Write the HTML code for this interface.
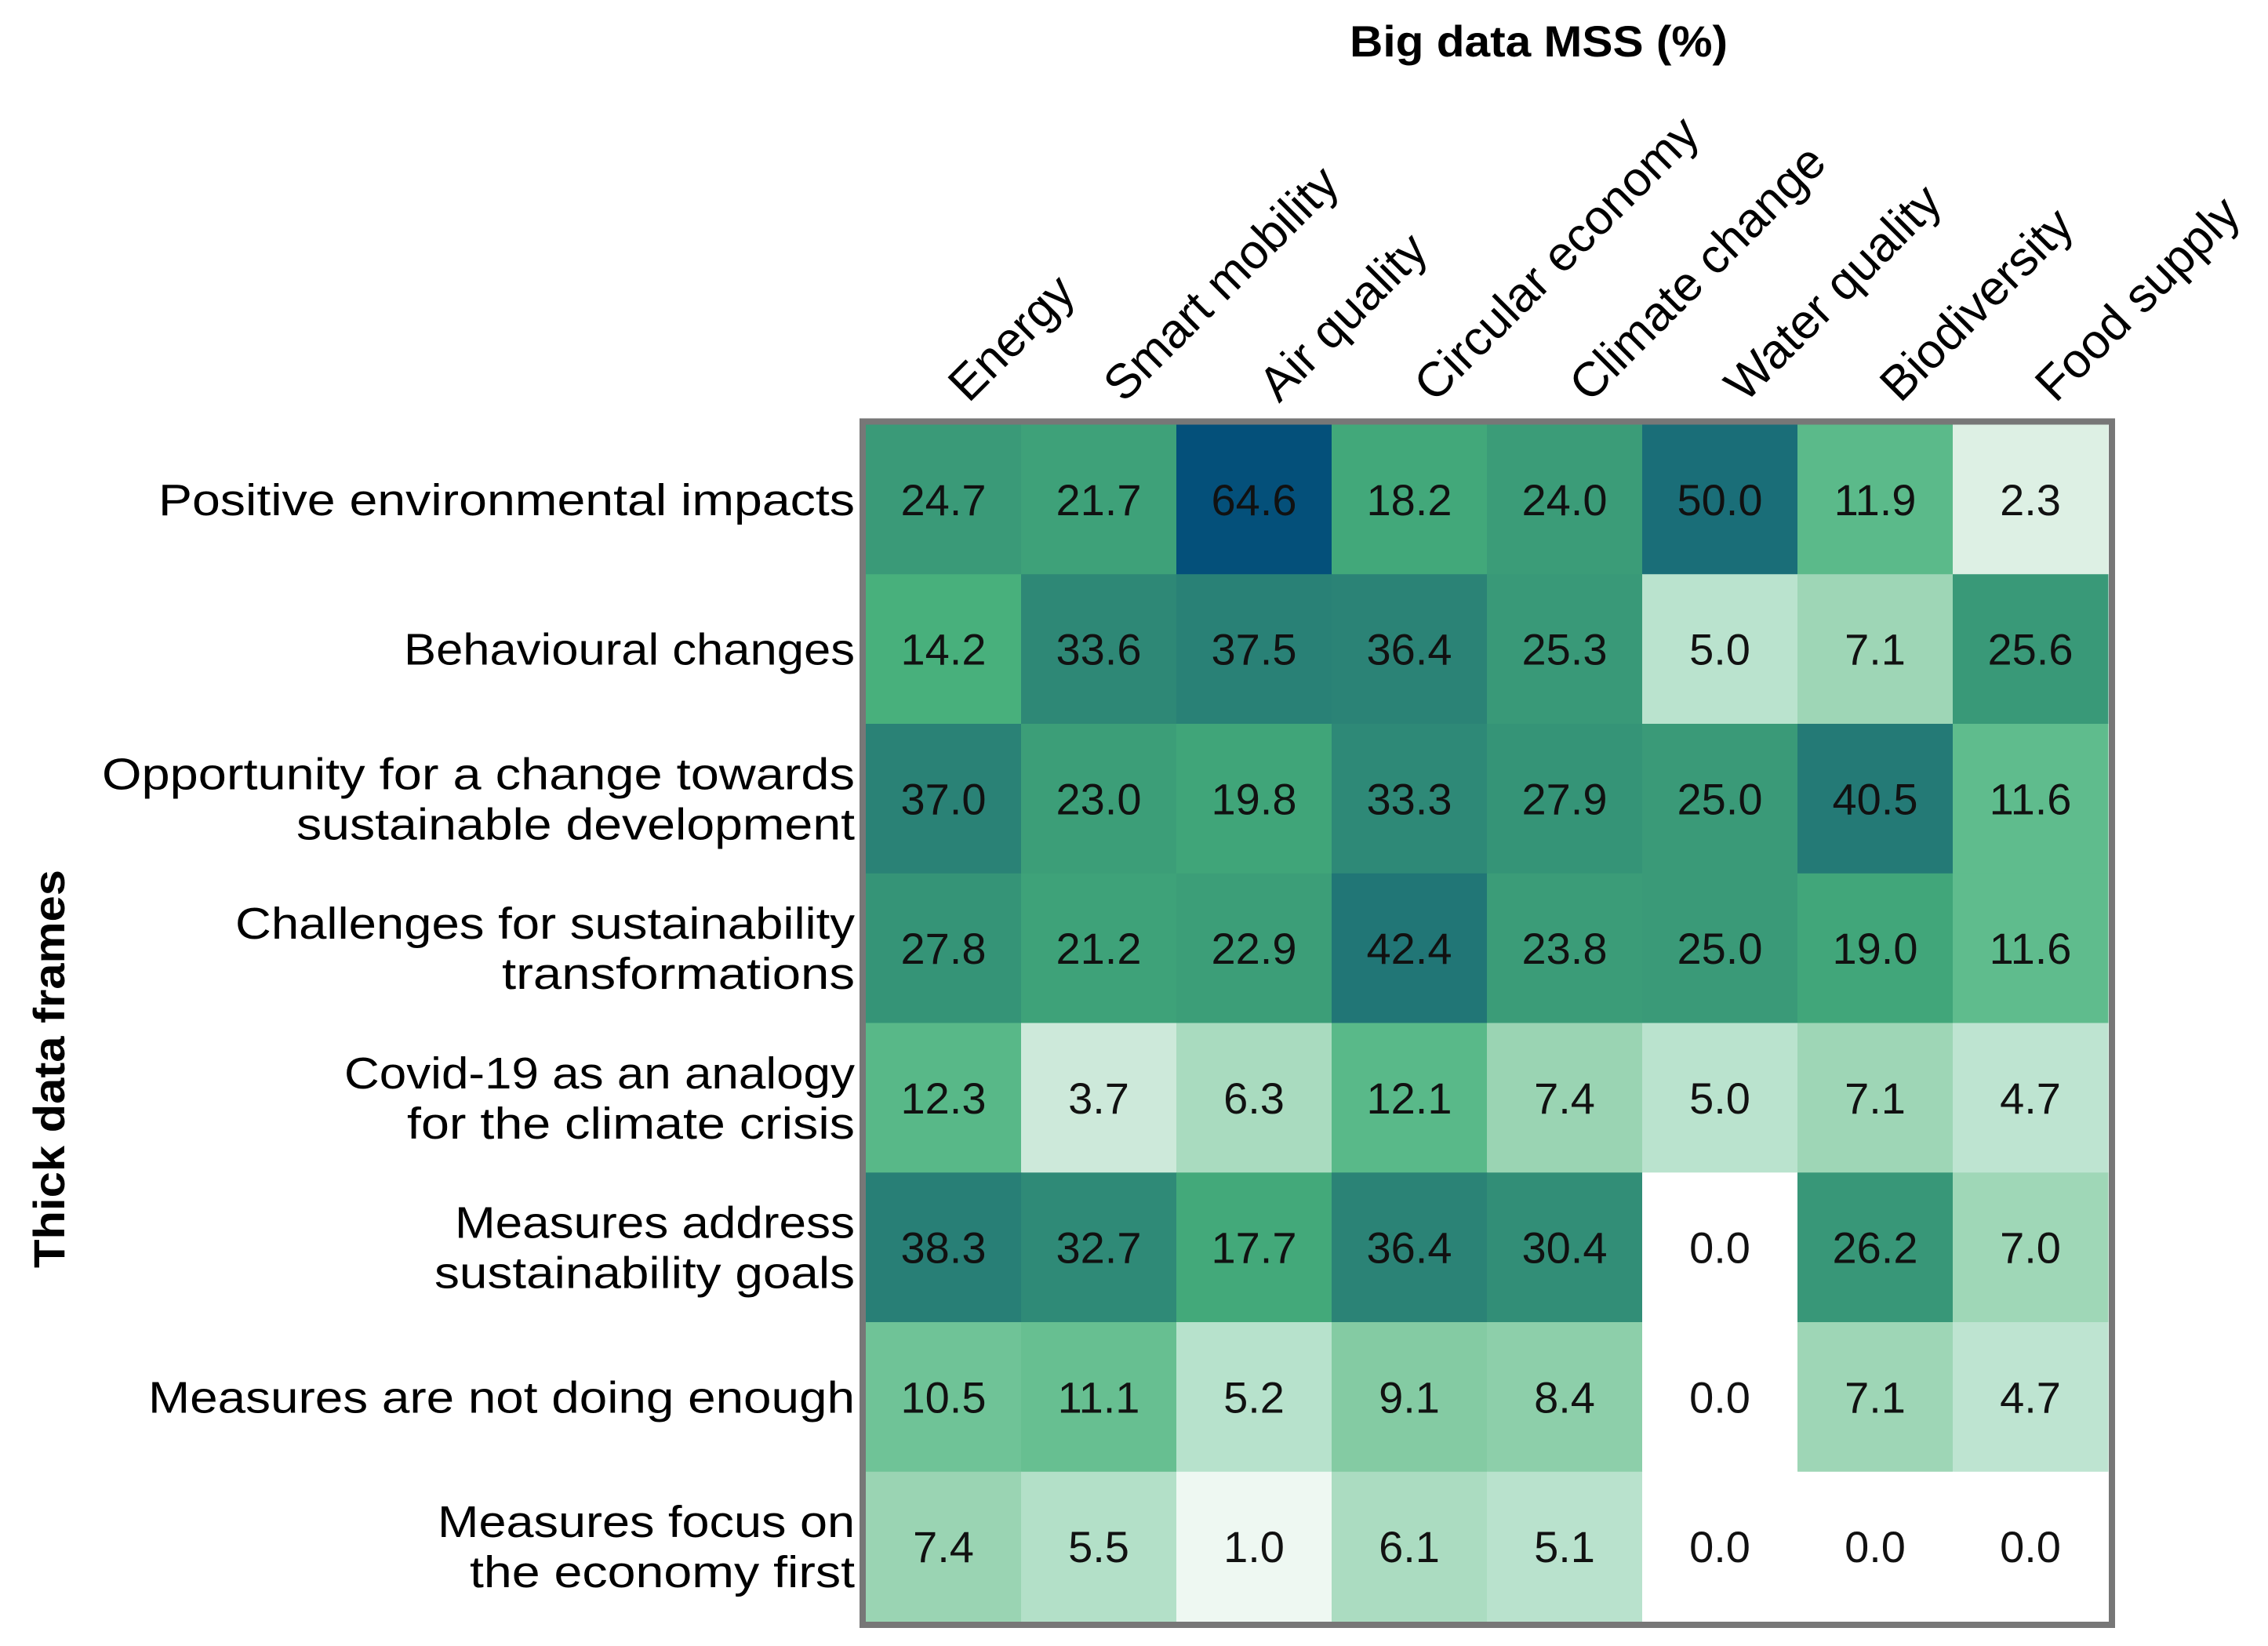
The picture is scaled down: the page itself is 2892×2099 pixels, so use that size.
<!DOCTYPE html>
<html><head><meta charset="utf-8"><style>
html,body{margin:0;padding:0;background:#fff}
svg{display:block}
text{font-family:"Liberation Sans",sans-serif}
</style></head><body>
<svg id="chart" width="2892" height="2099" viewBox="0 0 2892 2099" xmlns="http://www.w3.org/2000/svg">
<text x="1962" y="72" font-size="56" font-weight="bold" text-anchor="middle" textLength="482" lengthAdjust="spacingAndGlyphs">Big data MSS (%)</text>
<text transform="translate(82,1363) rotate(-90)" font-size="56" font-weight="bold" text-anchor="middle" textLength="508" lengthAdjust="spacingAndGlyphs">Thick data frames</text>
<g id="cells"></g>
<g id="collabels"></g>
<g id="rowlabels"></g>
<rect x="1100" y="537.5" width="1593" height="1534.5" fill="none" stroke="#777" stroke-width="8"/>
</svg>
<script>
const columns = ["Energy","Smart mobility","Air quality","Circular economy","Climate change","Water quality","Biodiversity","Food supply"];
const rows = [["Positive environmental impacts"],["Behavioural changes"],["Opportunity for a change towards","sustainable development"],["Challenges for sustainability","transformations"],["Covid-19 as an analogy","for the climate crisis"],["Measures address","sustainability goals"],["Measures are not doing enough"],["Measures focus on","the economy first"]];
const values = [
[24.7,21.7,64.6,18.2,24.0,50.0,11.9,2.3],
[14.2,33.6,37.5,36.4,25.3,5.0,7.1,25.6],
[37.0,23.0,19.8,33.3,27.9,25.0,40.5,11.6],
[27.8,21.2,22.9,42.4,23.8,25.0,19.0,11.6],
[12.3,3.7,6.3,12.1,7.4,5.0,7.1,4.7],
[38.3,32.7,17.7,36.4,30.4,0.0,26.2,7.0],
[10.5,11.1,5.2,9.1,8.4,0.0,7.1,4.7],
[7.4,5.5,1.0,6.1,5.1,0.0,0.0,0.0]];
const rowLabelLengths = [[888],[575],[960,712],[790,450],[651,571],[510,536],[901],[532,491]];

const X0=1104, Y0=541.5, CW=198, RH=190.75;
const xPos = i => X0 + i*CW;
const yPos = j => Y0 + j*RH;
const stops=[[0,"#ffffff"],[1,"#eef8f2"],[2.3,"#ddf0e4"],[3.7,"#cde9da"],[5,"#bae3ce"],[7.1,"#9ed6b6"],[9,"#85cca4"],[11.9,"#5bba8a"],[14.2,"#48b07c"],[18.2,"#42a87a"],[24,"#3b9c78"],[30,"#328f77"],[37,"#2a8276"],[42.4,"#217676"],[50,"#1a6e78"],[64.6,"#04507a"]];
function hex(c){return [1,3,5].map(k=>parseInt(c.substr(k,2),16));}
function color(v){
  if(v<=stops[0][0])return stops[0][1];
  for(let k=1;k<stops.length;k++){
    if(v<=stops[k][0]){const a=hex(stops[k-1][1]),b=hex(stops[k][1]);const t=(v-stops[k-1][0])/(stops[k][0]-stops[k-1][0]);
      return "rgb("+a.map((x,i)=>Math.round(x+(b[i]-x)*t)).join(",")+")";}
  }
  return stops[stops.length-1][1];
}
const NS="http://www.w3.org/2000/svg";
const cells=document.getElementById("cells");
values.forEach((row,j)=>row.forEach((v,i)=>{
  const r=document.createElementNS(NS,"rect");
  
  
  r.setAttribute("x",xPos(i));r.setAttribute("y",yPos(j));
  r.setAttribute("width",CW+0.5);r.setAttribute("height",RH+0.5);
  r.setAttribute("fill",color(v));
  cells.appendChild(r);
  const t=document.createElementNS(NS,"text");
  
  
  t.setAttribute("x",xPos(i)+CW/2);t.setAttribute("y",yPos(j)+RH/2+20);
  t.setAttribute("font-size","56");t.setAttribute("text-anchor","middle");t.setAttribute("fill","#111");
  t.textContent=v.toFixed(1);
  cells.appendChild(t);
}));
const cl=document.getElementById("collabels");
columns.forEach((c,i)=>{
  const t=document.createElementNS(NS,"text");
  
  
  const x=xPos(i)+CW/2+32, y=515;
  t.setAttribute("transform","translate("+x+","+y+") rotate(-45)");
  t.setAttribute("font-size","62");
  t.textContent=c;
  cl.appendChild(t);
});
const rl=document.getElementById("rowlabels");
rows.forEach((lines,j)=>{
  const cy=yPos(j)+RH/2;
  lines.forEach((ln,k)=>{
    const t=document.createElementNS(NS,"text");
    
    
    const off = lines.length===1?0:(k===0?-32:32);
    t.setAttribute("x",1090);t.setAttribute("y",cy+off+20);
    t.setAttribute("font-size","57");t.setAttribute("text-anchor","end");
    t.setAttribute("textLength",rowLabelLengths[j][k]);t.setAttribute("lengthAdjust","spacingAndGlyphs");
    t.textContent=ln;
    rl.appendChild(t);
  });
});
</script>
</body></html>
